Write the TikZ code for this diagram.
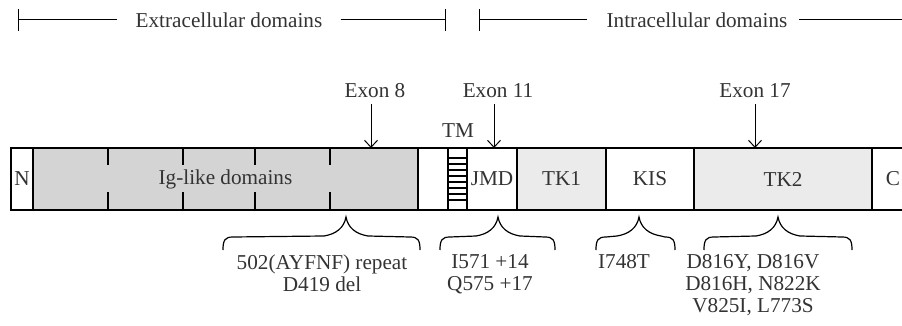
\documentclass[tikz,border=0pt]{standalone}
\usepackage{fontspec}
\setmainfont{Liberation Serif}
\usetikzlibrary{arrows.meta,positioning}

% brace under the bar: left end, tip, right end (x in px)
\newcommand{\mutbrace}[3]{%
  \draw[brc] (#1,250) .. controls (#1,240) and (#1+2,237) .. (#1+10,237) -- (#2-22,236)
    .. controls (#2-10,234) and (#2-2,228) .. (#2,217)
    .. controls (#2+2,228) and (#2+10,234) .. (#2+22,236) -- (#3-10,237)
    .. controls (#3-2,237) and (#3,240) .. (#3,250);}

\begin{document}
\begin{tikzpicture}[x=0.5pt, y=-0.5pt, font=\fontsize{10.6}{11}\selectfont, text=black!80]
    \tikzstyle{dom} = [rectangle, draw=black, line width=0.75pt, minimum height=31pt, inner sep=1pt, outer sep=0pt, anchor=west]
    \tikzstyle{lbl} = [inner sep=1pt]
    \tikzstyle{arr} = [line width=0.5pt, -{Straight Barb[length=3.5pt, width=6.5pt]}, draw=black]
    \tikzstyle{brc} = [line width=0.6pt, draw=black]
    \tikzstyle{dim} = [line width=0.5pt, draw=black]
    \useasboundingbox (0,0) rectangle (902,326);

    % header
    \node [lbl, inner xsep=9pt] (ext) at (229,20) {Extracellular domains};
    \node [lbl, inner xsep=9.5pt] (int) at (697,20) {Intracellular domains};
    \coordinate (extL) at (18,20);
    \coordinate (extR) at (445,20);
    \coordinate (intL) at (479,20);
    \coordinate (intR) at (902,20);
    \draw [dim] (extL) -- (ext.west);
    \draw [dim] (ext.east) -- (extR);
    \draw [dim] (intL) -- (int.west);
    \draw [dim] ([xshift=-4pt]int.east) -- (intR);
    \foreach \x in {18,445,479} \draw [dim] (\x,9) -- (\x,31);

    % domain bar
    \node [dom, minimum width=11pt] (nterm) at (11,179) {N};
    \node [dom, minimum width=192.5pt, fill=black!17, right=0pt of nterm] (ig) {Ig-like domains};
    \node [dom, minimum width=15pt, right=0pt of ig] (gap) {};
    \node [dom, minimum width=9.5pt, right=0pt of gap] (tm) {};
    \node [dom, minimum width=25pt, right=0pt of tm] (jmd) {JMD};
    \node [dom, minimum width=44.5pt, fill=black!8, right=0pt of jmd] (tk1) {TK1};
    \node [dom, minimum width=44pt, right=0pt of tk1] (kis) {KIS};
    \node [dom, minimum width=89pt, fill=black!8, right=0pt of kis] (tk2) {TK2};
    \node [dom, draw=none, minimum width=15pt, text width=13pt, align=right, right=0pt of tk2] (cterm) {C};
    \draw [line width=0.75pt] (cterm.north east) -- (cterm.north west) -- (cterm.south west) -- (cterm.south east);

    % Ig domain ticks and TM rungs
    \foreach \x in {108,183,255,330} {
        \draw [line width=0.75pt] (\x,148) -- (\x,165);
        \draw [line width=0.75pt] (\x,192) -- (\x,210);
    }
    \foreach \y in {158,164,170,176,182,188,194,200}
        \draw [line width=0.6pt] (448,\y) -- (467,\y);

    % exons
    \node [lbl, inner sep=3pt, anchor=south] (ex8) at (375,104) {Exon 8};
    \node [lbl, inner sep=3pt, anchor=south] (ex11) at (498,104) {Exon 11};
    \node [lbl, inner sep=3pt, anchor=south] (ex17) at (755,104) {Exon 17};
    \node [lbl] (tmlbl) at (458,131) {TM};
    \coordinate (e8) at (371,148);
    \coordinate (e11) at (494,148);
    \coordinate (e17) at (755,148);
    \draw [arr] (e8 |- ex8.south) -- (e8);
    \draw [arr] (e11 |- ex11.south) -- (e11);
    \draw [arr] (e17 |- ex17.south) -- (e17);

    % mutations
    \mutbrace{223}{346}{420}
    \mutbrace{440}{498}{555}
    \mutbrace{596}{639}{675}
    \mutbrace{704}{778}{852}
    \node [lbl, align=center, anchor=north] (m8) at (322,252) {502(AYFNF) repeat\\D419 del};
    \node [lbl, align=center, anchor=north] (m11) at (490,252) {I571 +14\\Q575 +17};
    \node [lbl, align=center, anchor=north] (mkis) at (624,252) {I748T};
    \node [lbl, align=center, anchor=north] (m17) at (753,252) {D816Y, D816V\\D816H, N822K\\V825I, L773S};
\end{tikzpicture}
\end{document}
